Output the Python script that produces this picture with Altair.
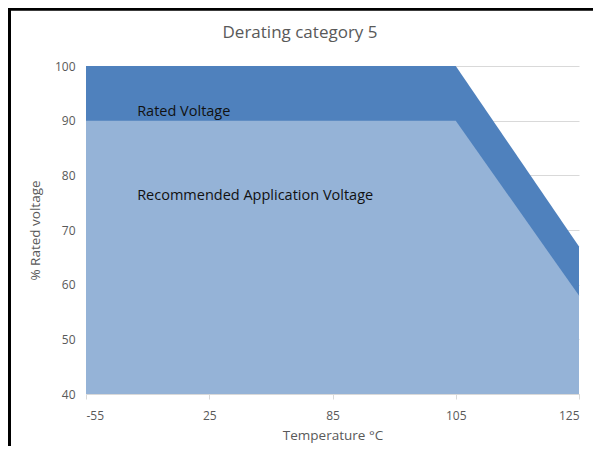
import json
import altair as alt
import pandas as pd

temps = ["-55", "25", "85", "105", "125"]
rated = [100, 100, 100, 100, 67]
recommended = [90, 90, 90, 90, 58]
base_value = 40

labels = ["Rated Voltage", "Recommended Application Voltage"]
label_x = [0.415, 0.415]
label_y = [91.6, 76.2]
chart_title = "Derating category 5"

df = pd.DataFrame({
    "idx": list(range(len(temps))),
    "temp": temps,
    "rated": rated,
    "recommended": recommended,
    "base": [base_value] * len(temps),
})
lab = pd.DataFrame({"text": labels, "x": label_x, "y": label_y})

FONT = "Open Sans"
GREY = "#595959"
label_expr = json.dumps(temps) + "[datum.value]"

xs = alt.Scale(domain=[0, len(temps) - 1], nice=False, zero=False)
ys = alt.Scale(domain=[40, 100], nice=False, zero=False)

xaxis = alt.Axis(values=list(range(len(temps))), labelExpr=label_expr, title="Temperature °C",
                 grid=False, domainColor="#d9d9d9", tickColor="#d9d9d9", tickSize=5,
                 labelColor=GREY, labelFont=FONT, labelFontSize=12, labelPadding=11,
                 titleColor=GREY, titleFont=FONT, titleFontSize=13.5, titleFontWeight="normal",
                 titlePadding=7)
yaxis = alt.Axis(values=[40, 50, 60, 70, 80, 90, 100], title="% Rated voltage",
                 domain=False, ticks=False, gridColor="#d9d9d9",
                 labelColor=GREY, labelFont=FONT, labelFontSize=12, labelPadding=11,
                 titleColor=GREY, titleFont=FONT, titleFontSize=13.5, titleFontWeight="normal",
                 titlePadding=12)

rated_area = alt.Chart(df).mark_area(color="#4f81bd", opacity=1).encode(
    x=alt.X("idx:Q", scale=xs, axis=xaxis),
    y=alt.Y("rated:Q", scale=ys, axis=yaxis),
    y2="base:Q",
)
rec_area = alt.Chart(df).mark_area(color="#95b3d7", opacity=1).encode(
    x=alt.X("idx:Q", scale=xs),
    y=alt.Y("recommended:Q", scale=ys),
    y2="base:Q",
)
texts = alt.Chart(lab).mark_text(align="left", baseline="middle", font=FONT, fontSize=14.5,
                                 color="#111111").encode(
    x=alt.X("x:Q", scale=xs),
    y=alt.Y("y:Q", scale=ys),
    text="text:N",
)
title_mark = alt.Chart(pd.DataFrame({"t": [chart_title]})).mark_text(
    align="center", baseline="middle", font=FONT, fontSize=17, color=GREY
).encode(x=alt.value(214), y=alt.value(-33), text="t:N")
frame_top = alt.Chart(df).mark_rule(color="#000000", strokeWidth=2.5).encode(
    x=alt.value(-78), x2=alt.value(515), y=alt.value(-57)
)
frame_left = alt.Chart(df).mark_rule(color="#000000", strokeWidth=3).encode(
    x=alt.value(-76.5), y=alt.value(-58), y2=alt.value(390)
)

chart = alt.layer(rated_area, rec_area, texts, title_mark, frame_top, frame_left).properties(
    width=493, height=328,
    background="white",
    autosize=alt.AutoSizeParams(type="none"),
    padding={"left": 78, "top": 58, "right": 14, "bottom": 52},
).configure_view(strokeWidth=0, stroke="transparent")

chart.save("out.html", embed_options={"renderer": "svg", "actions": False})
